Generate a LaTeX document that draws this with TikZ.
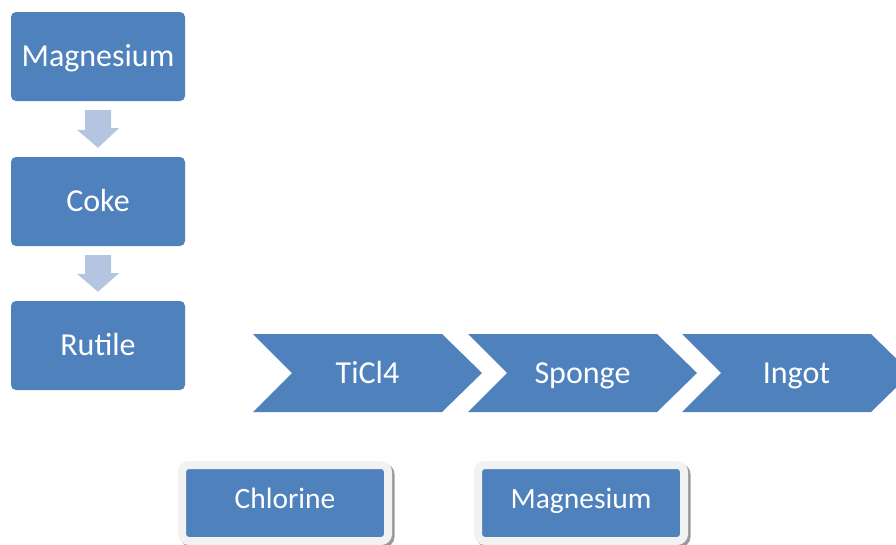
\documentclass[tikz,border=0pt]{standalone}
\usepackage{fontspec}
\setmainfont{Carlito}
\usetikzlibrary{shadows}
\definecolor{boxblue}{HTML}{4F81BD}
\definecolor{arrowblue}{HTML}{B3C5E0}
\definecolor{framegray}{HTML}{F2F2F2}
\tikzset{
	stepbox/.style={fill=boxblue, rounded corners=5pt, minimum width=174pt, minimum height=89pt, inner sep=0pt, text=white, font=\fontsize{32}{36}\selectfont, text height=20pt, text depth=0pt},
	steptext/.style={text=white, font=\fontsize{32}{36}\selectfont, inner sep=0pt, text height=20pt, text depth=0pt},
	inputbox/.style={fill=boxblue, draw=framegray, line width=8pt, rounded corners=7pt, minimum width=206pt, minimum height=76pt, inner sep=0pt, text=white, font=\fontsize{29.5}{34}\selectfont, text height=18pt, text depth=8pt, drop shadow={shadow xshift=2.5pt, shadow yshift=-2.5pt, fill=black!40, draw=black!40, line width=8pt, opacity=1}}
}
\begin{document}
\begin{tikzpicture}[x=1pt,y=-1pt]
				\useasboundingbox (0,0) rectangle (896,544);
				\node[stepbox] (mag) at (98,56.5) {Magnesium};
				\node[stepbox] (coke) at (98,201.5) {Coke};
				\node[stepbox] (rutile) at (98,345.5) {Rutile};
				\foreach \a/\b in {mag/coke, coke/rutile}
					\fill[arrowblue] ([shift={(-13,9)}]\a.south) -- ++(26,0) -- ++(0,18) -- ++(8,0) -- ([shift={(0,-9)}]\b.north) -- ++(-21,-18) -- ++(8,0) -- cycle;
				\foreach \x/\n/\t in {253/ticl/TiCl4, 468/sponge/Sponge, 682/ingot/Ingot}
				{
					\fill[boxblue] (\x,334) -- ++(189,0) -- ++(40,39) -- ++(-40,39) -- ++(-189,0) -- ++(39,-39) -- cycle;
					\node[steptext] (\n) at (\x+114.5,373) {\t};
				}
				\node[inputbox] (chlorine) at (285,503) {Chlorine};
				\node[inputbox] (magin) at (581,503) {Magnesium};
			\end{tikzpicture}
\end{document}
